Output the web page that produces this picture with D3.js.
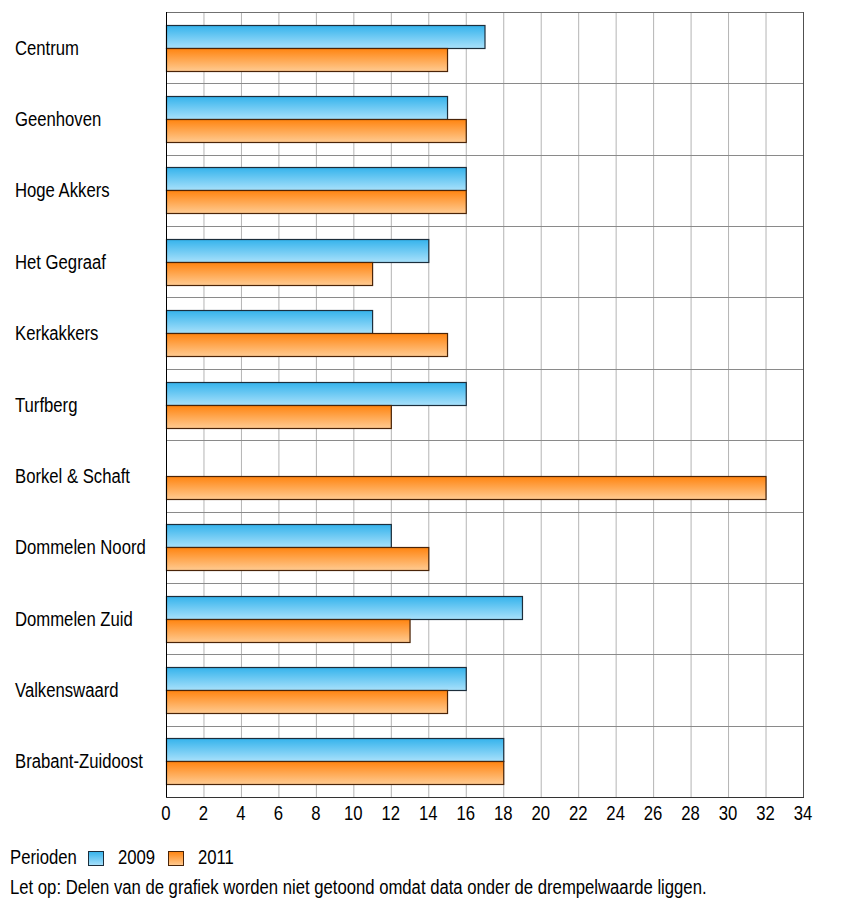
<!DOCTYPE html>
<html><head><meta charset="utf-8">
<script src="https://cdn.jsdelivr.net/npm/d3@7"></script>
<style>
body{margin:0;background:#fff;}
text{font-family:"Liberation Sans",Arial,sans-serif;fill:#000;font-size:20px;}
</style></head>
<body><svg id="c" width="850" height="907"></svg>
<script>
const categories = ["Centrum","Geenhoven","Hoge Akkers","Het Gegraaf","Kerkakkers","Turfberg","Borkel & Schaft","Dommelen Noord","Dommelen Zuid","Valkenswaard","Brabant-Zuidoost"];
const values2009 = [17,15,16,14,11,16,null,12,19,16,18];
const values2011 = [15,16,16,11,15,12,32,14,13,15,18];
const seriesNames = ["2009","2011"];
const tickValues = d3.range(0,35,2);
const legendTitle = "Perioden";
const note = "Let op: Delen van de grafiek worden niet getoond omdat data onder de drempelwaarde liggen.";

const svg = d3.select("#c");
const M = {left:166, right:803, top:12, bottom:797};
const x = d3.scaleLinear().domain([0,34]).range([M.left, M.right]);
const y = d3.scaleBand().domain(categories).range([M.top, M.bottom]);
const barH = 23;
const SX = 0.835; // narrow-font emulation

const defs = svg.append("defs");
function grad(id, c1, c2){
  const g = defs.append("linearGradient").attr("id",id).attr("x1",0).attr("y1",0).attr("x2",0).attr("y2",1);
  g.append("stop").attr("offset","0%").attr("stop-color",c1);
  g.append("stop").attr("offset","100%").attr("stop-color",c2);
}
grad("gBlue","#35b3ec","#a9e1fb");
grad("gOrange","#ff8410","#ffcb92");
const fills = ["url(#gBlue)","url(#gOrange)"];
const strokes = ["#1c2e3c","#4a2408"];

function txt(g, tx, ty, s, anchor){
  return g.append("text").attr("transform",`translate(${tx},${ty}) scale(${SX},1)`)
    .attr("text-anchor",anchor||"start").text(s);
}

// vertical grid
svg.append("g").selectAll("line").data(tickValues.slice(1,-1)).join("line")
  .attr("x1",d=>x(d)+0.5).attr("x2",d=>x(d)+0.5)
  .attr("y1",M.top).attr("y2",M.bottom)
  .attr("stroke","#b4b4b4").attr("stroke-width",1);
// horizontal category separators
svg.append("g").selectAll("line").data(categories.slice(1)).join("line")
  .attr("x1",M.left).attr("x2",M.right)
  .attr("y1",d=>Math.round(y(d))+0.5).attr("y2",d=>Math.round(y(d))+0.5)
  .attr("stroke","#8a8a8a").attr("stroke-width",1);
// border
svg.append("line").attr("x1",M.left).attr("x2",M.right).attr("y1",M.top+0.5).attr("y2",M.top+0.5).attr("stroke","#707070");
svg.append("line").attr("x1",M.right+0.5).attr("x2",M.right+0.5).attr("y1",M.top).attr("y2",M.bottom).attr("stroke","#505050");

// bars
const series = [values2009, values2011];
series.forEach((vals,si)=>{
  svg.append("g").selectAll("rect").data(categories.map((c,i)=>({c,v:vals[i]})).filter(d=>d.v!=null)).join("rect")
    .attr("x",x(0)+0.5)
    .attr("y",d=>Math.round(y(d.c)+y.bandwidth()/2 - barH + si*barH)+0.5)
    .attr("width",d=>x(d.v)-x(0))
    .attr("height",barH)
    .attr("fill",fills[si]).attr("stroke",strokes[si]).attr("stroke-width",1.2);
});

// axes lines
svg.append("line").attr("x1",M.left+0.5).attr("x2",M.left+0.5).attr("y1",M.top).attr("y2",M.bottom).attr("stroke","#000");
svg.append("line").attr("x1",M.left).attr("x2",M.right+1).attr("y1",M.bottom+0.5).attr("y2",M.bottom+0.5).attr("stroke","#333");

// x tick labels
const tg = svg.append("g");
tickValues.forEach(d=>txt(tg, x(d), 820, d, "middle"));

// category labels
const cg = svg.append("g");
categories.forEach(c=>txt(cg, 15, y(c)+y.bandwidth()/2+7, c));

// legend
const lg = svg.append("g");
txt(lg, 10, 864, legendTitle);
const lx = [88,168];
seriesNames.forEach((s,i)=>{
  lg.append("rect").attr("x",lx[i]+0.5).attr("y",851.5).attr("width",15).attr("height",14)
    .attr("fill",fills[i]).attr("stroke",strokes[i]);
  txt(lg, lx[i]+30, 864, s);
});
txt(svg, 10, 894, note);
</script></body></html>
